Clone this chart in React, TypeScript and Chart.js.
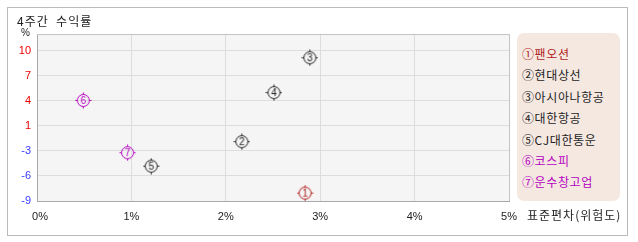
import React, { useEffect, useRef } from "react";
import { Chart, registerables } from "chart.js";

Chart.register(...registerables);

const titleText = "4주간 수익률";
const xAxisTitle = "표준편차(위험도)";
const yUnit = "%";
const markers = ["①", "②", "③", "④", "⑤", "⑥", "⑦"];
const numbers = ["1", "2", "3", "4", "5", "6", "7"];
const names = ["팬오션", "현대상선", "아시아나항공", "대한항공", "CJ대한통운", "코스피", "운수창고업"];
const riskValues = [2.84, 2.17, 2.89, 2.51, 1.21, 0.49, 0.96];
const returnValues = [-8.0, -1.5, 9.1, 4.7, -4.6, 3.7, -2.9];
const seriesColors = ["#b01c1c", "#222222", "#222222", "#222222", "#222222", "#b400c0", "#b400c0"];
const xTicks = [0, 1, 2, 3, 4, 5];
const yMin = -9;
const yTop = 10;
const yTickCount = 6;
const yMax = 12.1;

function makeMarker(num: string, color: string): HTMLCanvasElement {
  const c = document.createElement("canvas");
  c.width = 17;
  c.height = 17;
  const ctx = c.getContext("2d")!;
  const cx = 8.5;
  const cy = 8.5;
  const r = 6;
  ctx.strokeStyle = color;
  ctx.lineWidth = 1;
  ctx.beginPath();
  ctx.arc(cx, cy, r, 0, Math.PI * 2);
  ctx.stroke();
  ctx.beginPath();
  ctx.moveTo(cx, cy - r);
  ctx.lineTo(cx, cy - r - 2);
  ctx.moveTo(cx, cy + r);
  ctx.lineTo(cx, cy + r + 2);
  ctx.moveTo(cx - r, cy);
  ctx.lineTo(cx - r - 2, cy);
  ctx.moveTo(cx + r, cy);
  ctx.lineTo(cx + r + 2, cy);
  ctx.stroke();
  ctx.fillStyle = color;
  ctx.font = "10px 'Liberation Sans'";
  ctx.textAlign = "center";
  ctx.textBaseline = "middle";
  ctx.fillText(num, cx, cy + 0.5);
  return c;
}

export default function App() {
  const ref = useRef<HTMLCanvasElement | null>(null);

  useEffect(() => {
    document.body.style.margin = "0";
    const canvas = ref.current!;
    const datasets = names.map((n, i) => ({
      label: n,
      data: [{ x: riskValues[i], y: returnValues[i] }],
      pointStyle: makeMarker(numbers[i], seriesColors[i]) as any,
      pointRadius: 8,
      borderColor: seriesColors[i],
      backgroundColor: seriesColors[i],
    }));

    const plotBg = {
      id: "plotBg",
      beforeDraw(chart: any) {
        const { ctx, chartArea: a } = chart;
        ctx.save();
        ctx.fillStyle = "#f5f5f5";
        ctx.fillRect(a.left, a.top, a.right - a.left, a.bottom - a.top);
        ctx.restore();
      },
      afterDatasetsDraw(chart: any) {
        const { ctx, chartArea: a } = chart;
        ctx.save();
        ctx.strokeStyle = "#c4c4c4";
        ctx.lineWidth = 1;
        ctx.beginPath();
        ctx.moveTo(a.left, a.top + 0.5);
        ctx.lineTo(a.right + 0.5, a.top + 0.5);
        ctx.lineTo(a.right + 0.5, a.bottom);
        ctx.stroke();
        ctx.restore();
      },
    };

    const step = (yTop - yMin) / yTickCount;

    const chart = new Chart(canvas, {
      type: "scatter",
      data: { datasets },
      options: {
        animation: false,
        responsive: false,
        maintainAspectRatio: false,
        layout: { padding: { left: 0, top: 34, right: 129, bottom: 0 } },
        plugins: { legend: { display: false }, tooltip: { enabled: false } },
        scales: {
          x: {
            type: "linear",
            min: 0,
            max: 5,
            afterFit(scale: any) {
              scale.height = 41;
            },
            afterBuildTicks(scale: any) {
              scale.ticks = xTicks.map((v) => ({ value: v }));
            },
            grid: { color: "#dddddd", drawTicks: false },
            border: { color: "#aaaaaa" },
            ticks: {
              padding: 9,
              color: "#222",
              font: { family: "'Liberation Sans'", size: 11 },
              callback: (v: any) => (v === 0 ? "  0%" : v + "%"),
            },
          },
          y: {
            type: "linear",
            min: yMin,
            max: yMax,
            afterFit(scale: any) {
              scale.width = 37;
            },
            afterBuildTicks(scale: any) {
              const t = [];
              for (let k = 0; k <= yTickCount; k++) t.push({ value: yMin + k * step });
              scale.ticks = t;
            },
            grid: { color: "#dddddd", drawTicks: false },
            border: { color: "#aaaaaa" },
            ticks: {
              padding: 6,
              font: { family: "'Liberation Sans'", size: 11 },
              color: (c: any) => (c.tick && c.tick.value > 0 ? "#ee0000" : "#3a3aff"),
              callback: (v: any) => String(Math.round(Number(v))),
            },
          },
        },
      },
      plugins: [plotBg],
    });
    return () => chart.destroy();
  }, []);

  const font = "'Noto Sans CJK KR', 'Noto Sans', sans-serif";

  return (
    <div style={{ position: "relative", width: 638, height: 242, fontFamily: font }}>
      <div
        style={{
          position: "absolute",
          left: 7,
          top: 7,
          width: 619,
          height: 227,
          border: "1px solid #bbbbbb",
          boxSizing: "content-box",
        }}
      />
      <canvas ref={ref} width={638} height={242} style={{ position: "absolute", left: 0, top: 0 }} />
      <div
        style={{
          position: "absolute",
          left: 17,
          top: 12,
          fontSize: 12,
          lineHeight: "18px",
          color: "#222",
          letterSpacing: 1,
          whiteSpace: "pre",
        }}
      >
        {titleText.replace(" ", "  ")}
      </div>
      <div
        style={{
          position: "absolute",
          left: 21,
          top: 27,
          fontSize: 10,
          lineHeight: "12px",
          color: "#222",
          fontFamily: "'Liberation Sans'",
        }}
      >
        {yUnit}
      </div>
      <div
        style={{
          position: "absolute",
          left: 527,
          top: 206,
          fontSize: 12,
          lineHeight: "18px",
          color: "#222",
          letterSpacing: 1,
        }}
      >
        {xAxisTitle}
      </div>
      <div
        style={{
          position: "absolute",
          left: 517,
          top: 33,
          width: 103,
          height: 168,
          background: "#f5e8e1",
          borderRadius: 7,
          paddingTop: 10,
          boxSizing: "border-box",
        }}
      >
        {names.map((n, i) => (
          <div
            key={n}
            style={{
              paddingLeft: 5,
              fontSize: 12,
              lineHeight: "21.4px",
              height: 21.4,
              color: seriesColors[i],
              whiteSpace: "nowrap",
              letterSpacing: 0.6,
            }}
          >
            {markers[i]}
            {n}
          </div>
        ))}
      </div>
    </div>
  );
}
